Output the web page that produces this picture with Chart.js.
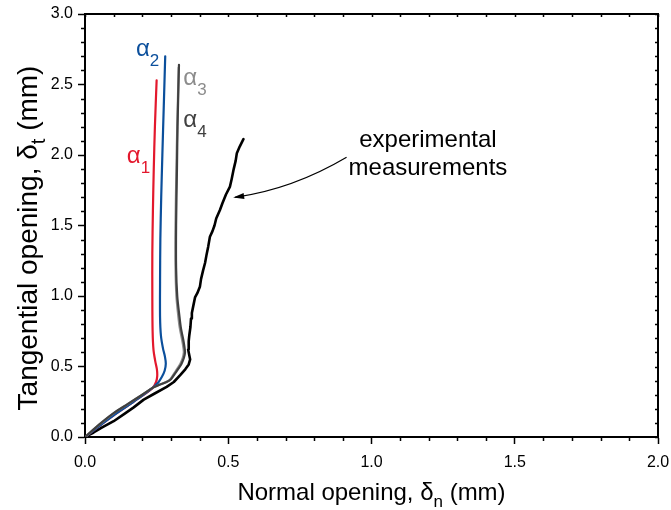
<!DOCTYPE html>
<html>
<head>
<meta charset="utf-8">
<script src="https://cdn.jsdelivr.net/npm/chart.js@4.4.1/dist/chart.umd.min.js"></script>
<style>
  html, body { margin: 0; padding: 0; background: #fff; }
  #wrap { width: 671px; height: 510px; position: relative; }
</style>
</head>
<body>
<div id="wrap"><canvas id="chart_openingPath"></canvas></div>
<script>
// opening path: normal opening (x, mm) against tangential opening (y, mm)
var alpha1X = [0, 0.05, 0.10, 0.15, 0.20, 0.237, 0.248, 0.252, 0.251, 0.245, 0.239, 0.236, 0.235, 0.235, 0.237, 0.240, 0.244, 0.250];
var alpha1Y = [0, 0.078, 0.153, 0.223, 0.293, 0.350, 0.39, 0.43, 0.48, 0.54, 0.62, 0.75, 1.0, 1.3, 1.6, 1.9, 2.2, 2.53];

var alpha2X = [0, 0.05, 0.10, 0.15, 0.20, 0.237, 0.255, 0.268, 0.278, 0.282, 0.279, 0.272, 0.265, 0.262, 0.262, 0.263, 0.266, 0.270, 0.275, 0.280];
var alpha2Y = [0, 0.078, 0.153, 0.223, 0.293, 0.350, 0.385, 0.425, 0.47, 0.52, 0.57, 0.63, 0.72, 0.85, 1.1, 1.4, 1.7, 2.0, 2.35, 2.70];

var alpha3X = [0, 0.05, 0.10, 0.15, 0.20, 0.237, 0.26, 0.283, 0.298, 0.311, 0.324, 0.333, 0.341, 0.345, 0.343, 0.339, 0.331, 0.326, 0.319, 0.316, 0.316, 0.319, 0.322, 0.327];
var alpha3Y = [0, 0.088, 0.168, 0.234, 0.300, 0.350, 0.37, 0.39, 0.41, 0.45, 0.49, 0.52, 0.56, 0.60, 0.64, 0.69, 0.77, 0.85, 1.0, 1.2, 1.5, 1.9, 2.2, 2.62];

var alpha4X = [0, 0.05, 0.10, 0.15, 0.20, 0.237, 0.26, 0.285, 0.300, 0.314, 0.328, 0.337, 0.345, 0.349, 0.347, 0.343, 0.335, 0.330, 0.322, 0.318, 0.318, 0.321, 0.323, 0.328];
var alpha4Y = [0, 0.090, 0.170, 0.235, 0.300, 0.350, 0.37, 0.39, 0.41, 0.45, 0.49, 0.52, 0.56, 0.60, 0.64, 0.69, 0.77, 0.85, 1.0, 1.2, 1.5, 1.9, 2.2, 2.64];

var testX = [0, 0.03, 0.06, 0.10, 0.14, 0.17, 0.205, 0.24, 0.285, 0.31, 0.333, 0.35, 0.362, 0.367, 0.364, 0.360, 0.362, 0.364, 0.368, 0.370, 0.373, 0.378, 0.384, 0.392, 0.401, 0.405, 0.412, 0.419, 0.424, 0.430, 0.436, 0.445, 0.452, 0.458, 0.471, 0.480, 0.492, 0.506, 0.512, 0.519, 0.526, 0.530, 0.540, 0.553];
var testY = [0, 0.032, 0.068, 0.112, 0.168, 0.21, 0.265, 0.305, 0.355, 0.39, 0.44, 0.48, 0.515, 0.55, 0.58, 0.62, 0.68, 0.72, 0.78, 0.84, 0.88, 0.93, 0.99, 1.02, 1.065, 1.12, 1.18, 1.234, 1.29, 1.35, 1.42, 1.46, 1.50, 1.55, 1.61, 1.66, 1.72, 1.776, 1.83, 1.90, 1.96, 2.013, 2.06, 2.112];

var xTicks = [0, 0.5, 1.0, 1.5, 2.0];
var yTicks = [0, 0.5, 1.0, 1.5, 2.0, 2.5, 3.0];

// curve labels: glyph, subscript, colour, anchor (left, baseline) in data units
var curveLabels = [
  { text: '\u03b1', sub: '1', color: '#e3182d', x: 0.146, y: 1.942 },
  { text: '\u03b1', sub: '2', color: '#0b4f9c', x: 0.178, y: 2.699 },
  { text: '\u03b1', sub: '3', color: '#8c8c8c', x: 0.343, y: 2.498 },
  { text: '\u03b1', sub: '4', color: '#404040', x: 0.343, y: 2.197 }
];
var noteLines = ['experimental', 'measurements'];
var noteAnchor = { x: 1.197, y: [2.06, 1.859] };
// arrow from the note to the measured curve: start, control, end
var arrowPath = [[0.913, 1.984], [0.724, 1.757], [0.524, 1.700]];

var FONT = '"Liberation Sans", Arial, Helvetica, sans-serif';

function pairs(xs, ys) {
  return xs.map(function (x, i) { return { x: x, y: ys[i] }; });
}

function series(label, xs, ys, color, width, tension, order) {
  return {
    label: label,
    data: pairs(xs, ys),
    showLine: true,
    borderColor: color,
    backgroundColor: color,
    borderWidth: width,
    pointRadius: 0,
    tension: tension,
    borderJoinStyle: 'round',
    borderCapStyle: 'round',
    order: order
  };
}

// text runs with subscripts
function runWidth(ctx, parts) {
  var w = 0;
  parts.forEach(function (p) {
    ctx.font = p.size + 'px ' + FONT;
    w += ctx.measureText(p.t).width;
  });
  return w;
}
function drawRun(ctx, parts, x, y) {
  parts.forEach(function (p) {
    ctx.font = p.size + 'px ' + FONT;
    ctx.fillText(p.t, x, y + (p.dy || 0));
    x += ctx.measureText(p.t).width;
  });
}

var decorPlugin = {
  id: 'decor',
  afterDraw: function (chart) {
    var ctx = chart.ctx;
    var xs = chart.scales.x, ys = chart.scales.y;
    var a = chart.chartArea;
    ctx.save();
    ctx.strokeStyle = '#000';
    ctx.fillStyle = '#000';

    // frame top and right
    ctx.lineWidth = 2;
    ctx.beginPath();
    ctx.moveTo(a.left, a.top);
    ctx.lineTo(a.right, a.top);
    ctx.lineTo(a.right, a.bottom);
    ctx.stroke();

    // minor ticks out, small ticks in on the opposite sides
    ctx.lineWidth = 1.5;
    ctx.beginPath();
    var i, p;
    for (i = 0; i <= 20; i++) {
      p = Math.round(xs.getPixelForValue(i / 10)) + 0.5;
      if (i % 5 !== 0) {
        ctx.moveTo(p, a.bottom);
        ctx.lineTo(p, a.bottom + 4);
      }
      ctx.moveTo(p, a.top);
      ctx.lineTo(p, a.top + 3);
    }
    for (i = 0; i <= 30; i++) {
      p = Math.round(ys.getPixelForValue(i / 10)) + 0.5;
      if (i % 5 !== 0) {
        ctx.moveTo(a.left, p);
        ctx.lineTo(a.left - 4, p);
      }
      ctx.moveTo(a.right, p);
      ctx.lineTo(a.right - 3, p);
    }
    ctx.stroke();

    // curve labels
    ctx.textBaseline = 'alphabetic';
    ctx.textAlign = 'left';
    curveLabels.forEach(function (l) {
      ctx.fillStyle = l.color;
      drawRun(ctx, [{ t: l.text, size: 24 }, { t: l.sub, size: 17, dy: 10 }],
        xs.getPixelForValue(l.x), ys.getPixelForValue(l.y));
    });

    // note and arrow
    ctx.fillStyle = '#000';
    ctx.textAlign = 'center';
    ctx.font = '24px ' + FONT;
    noteLines.forEach(function (t, k) {
      ctx.fillText(t, xs.getPixelForValue(noteAnchor.x), ys.getPixelForValue(noteAnchor.y[k]));
    });
    var P = arrowPath.map(function (q) { return [xs.getPixelForValue(q[0]), ys.getPixelForValue(q[1])]; });
    ctx.lineWidth = 1.2;
    ctx.beginPath();
    ctx.moveTo(P[0][0], P[0][1]);
    ctx.quadraticCurveTo(P[1][0], P[1][1], P[2][0], P[2][1]);
    ctx.stroke();
    var ang = Math.atan2(P[2][1] - P[1][1], P[2][0] - P[1][0]);
    ctx.beginPath();
    ctx.moveTo(P[2][0] + 2 * Math.cos(ang), P[2][1] + 2 * Math.sin(ang));
    ctx.lineTo(P[2][0] - 9 * Math.cos(ang) + 3 * Math.sin(ang), P[2][1] - 9 * Math.sin(ang) - 3 * Math.cos(ang));
    ctx.lineTo(P[2][0] - 9 * Math.cos(ang) - 3 * Math.sin(ang), P[2][1] - 9 * Math.sin(ang) + 3 * Math.cos(ang));
    ctx.closePath();
    ctx.fill();

    // axis titles with subscripts
    ctx.textAlign = 'left';
    var xt = [{ t: 'Normal opening, \u03b4', size: 24 }, { t: 'n', size: 17, dy: 7 }, { t: ' (mm)', size: 24 }];
    var w = runWidth(ctx, xt);
    drawRun(ctx, xt, (a.left + a.right) / 2 - w / 2, 500);

    var yt = [{ t: 'Tangential opening, \u03b4', size: 28 }, { t: 't', size: 20, dy: 8 }, { t: ' (mm)', size: 28 }];
    w = runWidth(ctx, yt);
    ctx.translate(37, 238);
    ctx.rotate(-Math.PI / 2);
    drawRun(ctx, yt, -w / 2, 0);
    ctx.restore();
  }
};

var chart_openingPath = new Chart(document.getElementById('chart_openingPath'), {
  type: 'scatter',
  data: {
    datasets: [
      series('\u03b14', alpha4X, alpha4Y, '#404040', 2.2, 0.3, 0),
      series('\u03b13', alpha3X, alpha3Y, '#8c8c8c', 2.2, 0.3, 1),
      series('\u03b12', alpha2X, alpha2Y, '#0b4f9c', 2.2, 0.3, 2),
      series('\u03b11', alpha1X, alpha1Y, '#e3182d', 2.2, 0.3, 3),
      series('experimental measurements', testX, testY, '#000000', 2.6, 0, 4)
    ]
  },
  options: {
    animation: false,
    responsive: true,
    maintainAspectRatio: false,
    layout: { padding: { top: 14, right: 13, left: 0, bottom: 0 } },
    plugins: {
      legend: { display: false },
      tooltip: { enabled: false }
    },
    scales: {
      x: {
        type: 'linear',
        min: 0,
        max: 2,
        afterFit: function (s) { s.height = 73; s.paddingLeft = 0; s.paddingRight = 0; },
        afterBuildTicks: function (s) { s.ticks = xTicks.map(function (v) { return { value: v }; }); },
        ticks: {
          autoSkip: false,
          maxRotation: 0,
          padding: 9,
          color: '#000',
          font: { family: FONT, size: 16 },
          callback: function (v) { return Number(v).toFixed(1); }
        },
        grid: { drawOnChartArea: false, drawTicks: true, tickLength: 7, tickWidth: 1.5, tickColor: '#000' },
        border: { display: true, color: '#000', width: 2 }
      },
      y: {
        type: 'linear',
        min: 0,
        max: 3,
        afterFit: function (s) { s.width = 85; s.paddingTop = 0; s.paddingBottom = 0; },
        afterBuildTicks: function (s) { s.ticks = yTicks.map(function (v) { return { value: v }; }); },
        ticks: {
          autoSkip: false,
          padding: 5,
          color: '#000',
          font: { family: FONT, size: 16 },
          callback: function (v) { return Number(v).toFixed(1); }
        },
        grid: { drawOnChartArea: false, drawTicks: true, tickLength: 7, tickWidth: 1.5, tickColor: '#000' },
        border: { display: true, color: '#000', width: 2 }
      }
    }
  },
  plugins: [decorPlugin, {
    id: 'whiteBg',
    beforeDraw: function (chart) {
      var ctx = chart.ctx;
      ctx.save();
      ctx.fillStyle = '#fff';
      ctx.fillRect(0, 0, chart.width, chart.height);
      ctx.restore();
    }
  }]
});
</script>
</body>
</html>
